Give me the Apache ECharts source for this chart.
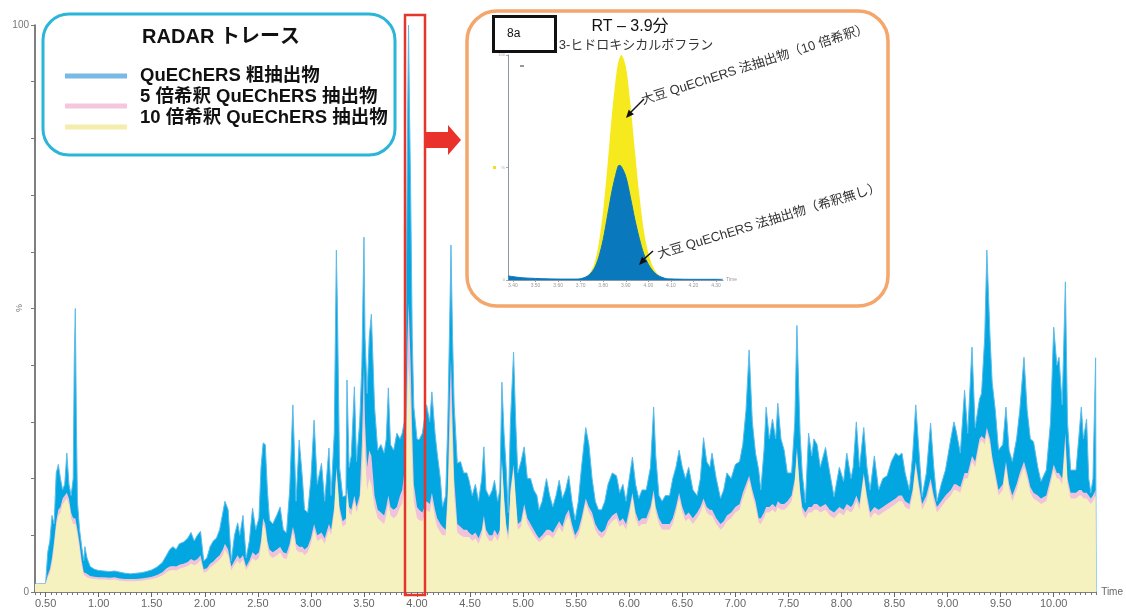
<!DOCTYPE html>
<html>
<head>
<meta charset="utf-8">
<script src="https://cdn.jsdelivr.net/npm/echarts@6/dist/echarts.min.js"></script>
<style>
html, body { margin: 0; padding: 0; background: #fff; }
#chart { width: 1126px; height: 609px; }
</style>
</head>
<body>
<div id="chart"></div>
<script>
// ---------------- main trace (retention time, min) ----------------
var times = [
  0.40,0.50,0.52,0.54,0.56,0.58,0.60,0.62,0.64,0.66,
  0.68,0.70,0.72,0.74,0.76,0.77,0.78,0.79,0.80,0.82,
  0.84,0.86,0.87,0.89,0.92,0.96,1.00,1.05,1.10,1.15,
  1.20,1.25,1.30,1.35,1.40,1.45,1.50,1.55,1.60,1.64,
  1.67,1.70,1.73,1.76,1.80,1.84,1.87,1.90,1.93,1.96,
  1.99,2.02,2.05,2.08,2.11,2.14,2.17,2.19,2.22,2.25,
  2.28,2.31,2.33,2.36,2.39,2.42,2.45,2.48,2.51,2.53,
  2.55,2.57,2.59,2.61,2.64,2.68,2.71,2.74,2.77,2.80,
  2.83,2.85,2.86,2.89,2.92,2.94,2.97,3.00,3.03,3.06,
  3.10,3.13,3.17,3.19,3.22,3.24,3.25,3.27,3.30,3.33,
  3.34,3.36,3.38,3.41,3.43,3.46,3.48,3.50,3.51,3.53,
  3.55,3.57,3.60,3.63,3.66,3.69,3.71,3.73,3.75,3.78,
  3.81,3.84,3.86,3.88,3.895,3.91,3.92,3.93,3.94,3.955,
  3.97,4.00,4.02,4.05,4.09,4.12,4.14,4.17,4.19,4.22,
  4.24,4.27,4.29,4.31,4.32,4.335,4.35,4.38,4.41,4.44,
  4.47,4.49,4.52,4.55,4.58,4.61,4.63,4.65,4.68,4.71,
  4.73,4.76,4.78,4.80,4.82,4.84,4.86,4.88,4.91,4.93,
  4.95,4.98,5.01,5.04,5.07,5.10,5.13,5.15,5.18,5.22,
  5.25,5.28,5.31,5.34,5.37,5.40,5.43,5.46,5.49,5.52,
  5.55,5.59,5.62,5.65,5.68,5.71,5.74,5.77,5.80,5.84,
  5.88,5.91,5.94,5.97,6.00,6.03,6.06,6.09,6.12,6.16,
  6.20,6.23,6.25,6.28,6.31,6.34,6.38,6.41,6.44,6.47,
  6.50,6.53,6.56,6.60,6.64,6.67,6.70,6.73,6.76,6.78,
  6.82,6.86,6.89,6.92,6.96,7.00,7.04,7.07,7.10,7.13,
  7.16,7.19,7.22,7.24,7.27,7.29,7.32,7.35,7.38,7.40,
  7.43,7.46,7.49,7.53,7.56,7.58,7.61,7.63,7.66,7.69,
  7.72,7.74,7.77,7.80,7.85,7.89,7.93,7.98,8.02,8.05,
  8.09,8.11,8.14,8.17,8.21,8.24,8.27,8.31,8.35,8.39,
  8.43,8.47,8.51,8.54,8.57,8.60,8.64,8.67,8.70,8.73,
  8.76,8.80,8.84,8.87,8.90,8.94,8.98,9.03,9.06,9.08,
  9.12,9.16,9.19,9.23,9.26,9.30,9.32,9.35,9.37,9.40,
  9.42,9.45,9.48,9.52,9.55,9.58,9.61,9.65,9.68,9.72,
  9.75,9.78,9.81,9.85,9.88,9.93,9.97,10.00,10.03,10.05,
  10.08,10.11,10.13,10.16,10.21,10.24,10.26,10.28,10.31,10.33,
  10.35,10.37,10.395,10.40
];
// QuEChERS 粗抽出物 (%)
var crude = [
  1.4,1.5,7,9,13.5,12,21,22.5,20,18,
  19,24.5,19,17,20,41,50,30,16,11,
  8,5.5,8,6,4.5,4,3.8,3.7,3.6,3.7,
  3.5,3.3,3.2,3.3,3.4,3.6,3.9,4.4,5.2,6.5,
  7.5,8.0,7.5,8.5,8.8,9.5,10.5,9,10,10.7,
  5.5,6,8,9,9.5,11,14,16,14.5,5.5,
  10,12.2,10,13.5,6,9,14.8,11,13,22,
  26.3,26,18,12.7,12,13.6,15,11,10.4,18,
  33,22,16,26.8,20,14.5,14,20,30.3,19,
  22.7,16,25.4,17,28,60.3,50,22,16.8,17,
  37.4,22,24,36.2,23,30,40,62.6,45,35,
  45,49,32.6,25,26,24.5,27,36,26,25,
  28,27,28,30,42,80,100,84,71,45,
  32.6,27,26.8,28,33,30,35.3,28,24.5,20,
  15,17,30,50,61.2,45,33,22.7,23,21,
  21,19.7,17,19,16,20,25.6,18,16.8,18,
  19.7,16,18,37,28,22,14,30,42.3,30,
  21,23,25.6,20,20,18,17,14.5,16,20,
  17,15,17,19.7,16.5,18,20.5,16,12.7,16,
  22,29,26,20,16,14.5,14.5,16,19,21,
  20.5,17.5,19,16,20,23.8,19,16.5,18,18,
  22,32.6,24,17,16,17,17,20,22,25,
  22,20,22,18,17,20,27.2,23,22,24.5,
  20,16.5,18,21,20,22.5,23,26,32,42.7,
  30,24.5,21.5,18,25,32.6,27,30.5,27,33.3,
  27,25,21,21,30,47,28,21,15.7,28,
  24,27,26,22,25.5,21,16.8,22,19.5,24.5,
  20,22,30,22,29,22,18,24,18,20,
  20.5,23,24.5,24,24.5,21,18,24,33,25,
  16.8,21,29.8,22,16,19,21.5,27,30,28.5,
  24.5,35.6,28,43.2,29,34,35,45,60.3,45,
  37,32,25,26,32.6,25,23,27,32,41.4,
  32,27,26.5,22,19.5,21.5,30,46.7,40,41.4,
  33,54.7,30,21.5,21.5,28,32.6,27,30.5,20,
  17.5,20,41.3,0
];
// 5 倍希釈 QuEChERS 抽出物 (%)
var dil5 = [
  1.4,1.5,3,4,6,9,12.5,14.5,15,16.5,
  17,17.5,16.5,14,13,13,13,12,11,8.5,
  5.5,3.5,3.8,3.2,2.8,2.7,2.6,2.6,2.5,2.6,
  2.4,2.3,2.3,2.3,2.4,2.5,2.7,3.0,3.5,4.2,
  4.5,4.6,4.5,4.8,5.0,5.3,5.8,5.5,5.8,6.5,
  4.0,4.2,5,5.4,6,6.5,7.5,8.5,7.5,4.5,
  5.5,6.5,5.8,6.5,4.5,5.5,7.0,6.5,7,9,
  13,12,9,7.5,7,7.5,8,7,6.8,8.5,
  11.5,10,8.5,8,8,7.5,8,9.5,12,10,
  10.5,9.5,12,11,15,22,20,15,12.5,13,
  18.5,15,14.5,17,15,17,26,40,30,22,
  25,24,17,14.5,14,13.5,15,17,15,14.5,
  15,17,18,21,27,44,51,46,40,28,
  19,15,14.5,14,16,15.5,17.5,14.5,13,12,
  11.5,11,18,35,41,30,20,12,11.5,11,
  11,10.5,10,10.5,9.5,11,13.5,11,10,10,
  11,10,11,23.5,17,12,10,18,22.5,17,
  12,12.5,15.5,13,12,11,10,9.5,10,11,
  11,10.5,11.5,12.5,11.5,13.5,14.5,12,10,11,
  13,16.5,15,14,12,11,10.5,11,12.5,13.5,
  14,12.5,13,12,14.5,17.5,14,12.5,13,13,
  15,18,15,13,12,12,12,13,15,17.5,
  15,13.5,14,13,14,15,16.5,15,14.5,14.5,
  13,12,12.5,13.5,14,15,15.5,17.5,19,20.5,
  18,16,13,13,14,15,15,15.5,15,16,
  15.5,15.5,16,17,20,25.5,18,15,14,15,
  15,15.5,15.5,15,15.5,14.5,14,15,14.5,15.5,
  15,15.5,17,15.5,21,17,14,15,14.5,15,
  15.5,16,16.5,17,17,16,15.5,18,23,19,
  15.5,17,20,17,15,16,17,18,19,19,
  18.5,21,21,24,23,27,27.5,27,29,27,
  24,21,18,19,23,19,17,19,21,23,
  21,18.5,17.5,17,16.5,17,20,22.5,21,21,
  20,28,20,17.5,17.5,18,18,17.5,17.5,17,
  16.5,17,18,0
];
// 10 倍希釈 QuEChERS 抽出物 (%)
var dil10 = [
  1.4,1.4,2.5,3.3,5,8,11.5,13.5,14,15.5,
  16,16.5,15.5,13,12,12,12,11,10,7.5,
  4.5,3,3.2,2.6,2.4,2.3,2.2,2.2,2.1,2.2,
  2.0,1.9,1.9,1.9,2.0,2.1,2.3,2.5,2.9,3.5,
  3.8,3.9,3.8,4.1,4.3,4.6,5.0,4.7,5,5.6,
  3.4,3.6,4.3,4.7,5.2,5.7,6.5,7.5,6.5,3.8,
  4.8,5.5,5,5.7,3.9,4.8,6.0,5.5,6,8,
  12,11,8,6.5,6,6.5,7,6,5.8,7.5,
  10.4,9,7.5,7,7,6.5,7,8.5,11,9,
  9.5,8.5,11,10,14,21,19,14,11.5,12,
  17.5,14,13.5,16,14,16,20,31,24,18,
  20,19,15,13,12.5,12,13.5,15.5,13.5,13,
  13.5,15,15.5,18,22,35,40,37,32,22,
  16,13,12.7,12.5,14.5,14,16.2,13,11.5,10.5,
  10,10,16,28,34,25,17,10.5,10,9.7,
  9.7,9.7,9,9.5,8.5,10,12.5,10,9,9,
  10,9,10,22.5,16,11,9,17,21.5,16,
  11,11.5,14.5,12,11,10,9.2,8.8,9.2,10,
  10,9.5,10.5,11.5,10.5,12.5,13.5,11,9.2,10,
  12,15.7,14,13,11,10,9.5,10,11.5,12.5,
  13,11.5,12,11,13.5,16.8,13,11.5,12,12,
  14,17,14,12,11,11,11,12,14,16.5,
  14,12.5,13,12,13,14,15.5,14,13.5,13.5,
  12,11,11.5,12.5,13,14,14.5,16.5,18,19.7,
  17,15,12.2,12,13,14,14,14.5,14,15,
  14.5,14.5,15,16,19,24.5,17,14,13,14,
  14,14.5,14.5,14,14.5,13.5,13,14,13.5,14.5,
  14,14.5,16,14.5,20.3,16,13,14,13.5,14,
  14.5,15,15.5,16,16,15,14.5,17,22,18,
  14.5,16,19,16,14,15,16,17,18,18,
  17.5,20,20,23,22,26,26.8,26,28,26,
  23,20,17,18,22,18,16,18,20,22,
  20,17.5,16.5,16,15.5,16,19,21.5,20,20,
  19,26,19,16.5,16.5,17,17,16.5,16.5,16,
  15.5,16,17,0
];
var timeLabels = [0.5,1.0,1.5,2.0,2.5,3.0,3.5,4.0,4.5,5.0,5.5,6.0,6.5,7.0,7.5,8.0,8.5,9.0,9.5,10.0];

// ---------------- inset: 3-ヒドロキシカルボフラン, RT 3.9 ----------------
var inTimes = [3.38,3.40,3.44,3.50,3.56,3.62,3.68,3.70,3.72,3.74,3.76,3.78,3.80,3.82,3.84,3.86,3.87,3.88,
               3.90,3.92,3.94,3.96,3.98,4.00,4.02,4.04,4.06,4.08,4.10,4.12,4.20,4.30,4.33];
var inCrude = [1.8,1.5,1.0,0.7,0.5,0.4,0.4,0.6,1.2,2.5,5,10,18,29,40,48.5,51,50.5,
               46,37,27,18.5,11.5,7,4,2.2,1.2,0.6,0.5,0.4,0.3,0.3,0.3];
var inDil10 = [0,0,0,0,0,0,0,0.3,1,3,7,16,31,52,75,93,98,100,
               95,79,58,38,22,12,6,2.8,1.2,0.4,0,0,0,0,0];
var inTimeLabels = [3.4,3.5,3.6,3.7,3.8,3.9,4.0,4.1,4.2,4.3];

var chart = echarts.init(document.getElementById('chart'));
var FONT = '"Liberation Sans", "Noto Sans CJK JP", sans-serif';

function pairs(xs, ys) {
    return xs.map(function (x, i) { return [x, ys[i]]; });
}

function arrowHead(tx, ty, dx, dy) {
    // small black head, tip at (tx,ty), pointing along (dx,dy)
    var l = Math.sqrt(dx * dx + dy * dy), ux = dx / l, uy = dy / l;
    var bx = tx - ux * 8, by = ty - uy * 8;
    return [[tx, ty], [bx + uy * 3.5, by - ux * 3.5], [bx - uy * 3.5, by + ux * 3.5]];
}

var option = {
    animation: false,
    backgroundColor: '#fff',
    grid: [
        {left: 35, right: 28, top: 25, bottom: 17},
        {left: 508, top: 55, width: 215, height: 225}
    ],
    xAxis: [
        {
            gridIndex: 0, type: 'value', position: 'bottom', min: 0.4, max: 10.4, interval: 0.05,
            name: 'Time', nameLocation: 'end', nameGap: 5,
            nameTextStyle: {fontSize: 10, color: '#666', fontFamily: FONT, verticalAlign: 'middle'},
            axisLine: {lineStyle: {color: '#555', width: 1.5}},
            axisTick: {length: 3, lineStyle: {color: '#777'}},
            axisLabel: {show: false},
            splitLine: {show: false}
        },
        {
            gridIndex: 0, type: 'value', position: 'bottom', min: 0.4, max: 10.4,
            axisLine: {show: false},
            axisTick: {show: true, length: 5, customValues: timeLabels, lineStyle: {color: '#666'}},
            axisLabel: {
                customValues: timeLabels, margin: 6, fontSize: 11, color: '#666', fontFamily: FONT,
                formatter: function (v) { return v.toFixed(2); }
            },
            splitLine: {show: false}
        },
        {
            gridIndex: 1, type: 'value', min: 3.378, max: 4.331, z: 20,
            name: 'Time', nameLocation: 'end', nameGap: 3,
            nameTextStyle: {fontSize: 5, color: '#999'},
            axisLine: {lineStyle: {color: '#8a97a6', width: 1}},
            axisTick: {length: 2, customValues: inTimeLabels, lineStyle: {color: '#999'}},
            axisLabel: {
                customValues: inTimeLabels, margin: 3, fontSize: 5, color: '#999',
                formatter: function (v) { return v.toFixed(2); }
            },
            splitLine: {show: false}
        }
    ],
    yAxis: [
        {
            gridIndex: 0, type: 'value', min: 0, max: 100, interval: 10,
            axisLine: {show: true, lineStyle: {color: '#555', width: 1.5}},
            axisTick: {show: true, length: 4, lineStyle: {color: '#777'}},
            axisLabel: {
                fontSize: 10, color: '#777', fontFamily: FONT, margin: 6,
                formatter: function (v) { return v === 0 ? '0' : (v === 100 ? '100' : ''); }
            },
            splitLine: {show: false}
        },
        {
            gridIndex: 1, type: 'value', min: 0, max: 100, interval: 50, z: 20,
            axisLine: {show: true, lineStyle: {color: '#8a97a6', width: 1}},
            axisTick: {show: true, length: 2, lineStyle: {color: '#aaa'}},
            axisLabel: {fontSize: 4, color: '#aaa', margin: 3,
                formatter: function (v) { return v === 50 ? '%' : String(v); }},
            splitLine: {show: false}
        }
    ],
    series: [
        {
            name: 'QuEChERS 粗抽出物', type: 'line', xAxisIndex: 0, yAxisIndex: 0,
            data: pairs(times, crude), symbol: 'none',
            lineStyle: {width: 1, color: '#5cbbe9'},
            areaStyle: {color: '#02a6e0', opacity: 1}, z: 2
        },
        {
            name: '5 倍希釈 QuEChERS 抽出物', type: 'line', xAxisIndex: 0, yAxisIndex: 0,
            data: pairs(times, dil5), symbol: 'none',
            lineStyle: {width: 0},
            areaStyle: {color: '#f0c3da', opacity: 1}, z: 3
        },
        {
            name: '10 倍希釈 QuEChERS 抽出物', type: 'line', xAxisIndex: 0, yAxisIndex: 0,
            data: pairs(times, dil10), symbol: 'none',
            lineStyle: {width: 0},
            areaStyle: {color: '#f5f2c0', opacity: 1}, z: 4
        },
        {
            type: 'line', xAxisIndex: 2, yAxisIndex: 1,
            data: pairs(inTimes, inDil10), symbol: 'none', smooth: 0.3,
            lineStyle: {width: 0},
            areaStyle: {color: '#f6ea1f', opacity: 1}, z: 20
        },
        {
            type: 'line', xAxisIndex: 2, yAxisIndex: 1,
            data: pairs(inTimes, inCrude), symbol: 'none', smooth: 0.3,
            lineStyle: {width: 1, color: '#0a78bd'},
            areaStyle: {color: '#0a78bd', opacity: 1}, z: 21
        }
    ],
    graphic: [
        // y axis "%" mark
        {type: 'text', x: 20, y: 308, rotation: Math.PI / 2, z: 5,
         style: {text: '%', fontSize: 9, fill: '#777', align: 'center', verticalAlign: 'middle', fontFamily: FONT}},

        // legend box
        {type: 'rect', z: 10, shape: {x: 43, y: 14, width: 352, height: 141, r: 26},
         style: {fill: '#fff', stroke: '#2bb5d8', lineWidth: 3}},
        {type: 'text', x: 221, y: 37, z: 11,
         style: {text: 'RADAR トレース', fontSize: 20, fontWeight: 'bold', fontFamily: FONT,
                 fill: '#111', align: 'center', verticalAlign: 'middle'}},
        {type: 'line', z: 11, shape: {x1: 65, y1: 76, x2: 127, y2: 76}, style: {stroke: '#7ab9e6', lineWidth: 5}},
        {type: 'line', z: 11, shape: {x1: 65, y1: 106, x2: 127, y2: 106}, style: {stroke: '#f4c7dd', lineWidth: 5}},
        {type: 'line', z: 11, shape: {x1: 65, y1: 127, x2: 127, y2: 127}, style: {stroke: '#f3eeab', lineWidth: 5}},
        {type: 'text', x: 140, y: 76, z: 11,
         style: {text: 'QuEChERS 粗抽出物', fontSize: 18.5, fontWeight: 'bold', fontFamily: FONT, fill: '#111', verticalAlign: 'middle'}},
        {type: 'text', x: 140, y: 97, z: 11,
         style: {text: '5 倍希釈 QuEChERS 抽出物', fontSize: 18.5, fontWeight: 'bold', fontFamily: FONT, fill: '#111', verticalAlign: 'middle'}},
        {type: 'text', x: 140, y: 118, z: 11,
         style: {text: '10 倍希釈 QuEChERS 抽出物', fontSize: 18.5, fontWeight: 'bold', fontFamily: FONT, fill: '#111', verticalAlign: 'middle'}},

        // red highlight around the RT 3.9 peak
        {type: 'rect', z: 15, shape: {x: 405, y: 15, width: 20, height: 580},
         style: {fill: 'none', stroke: '#e5362c', lineWidth: 2.5}},
        {type: 'polygon', z: 15,
         shape: {points: [[425, 132], [448, 132], [448, 125], [461, 140], [448, 155], [448, 148], [425, 148]]},
         style: {fill: '#e8322b'}},

        // inset frame
        {type: 'rect', z: 10, shape: {x: 467, y: 11, width: 421, height: 295, r: 30},
         style: {fill: '#fff', stroke: '#f4a66b', lineWidth: 3.5}},
        {type: 'rect', z: 30, shape: {x: 493.5, y: 16.5, width: 62, height: 35},
         style: {fill: '#fff', stroke: '#111', lineWidth: 3}},
        {type: 'text', x: 507, y: 34, z: 31,
         style: {text: '8a', fontSize: 12, fontFamily: FONT, fill: '#111', verticalAlign: 'middle'}},
        {type: 'text', x: 630, y: 27, z: 31,
         style: {text: 'RT – 3.9分', fontSize: 16, fontFamily: FONT, fill: '#111', align: 'center', verticalAlign: 'middle'}},
        {type: 'text', x: 636, y: 45, z: 31,
         style: {text: '3-ヒドロキシカルボフラン', fontSize: 13, fontFamily: FONT, fill: '#333', align: 'center', verticalAlign: 'middle'}},
        {type: 'rect', z: 31, shape: {x: 493, y: 166, width: 3, height: 3}, style: {fill: '#f2e01c'}},
        {type: 'line', z: 31, shape: {x1: 520, y1: 66, x2: 524, y2: 66}, style: {stroke: '#333', lineWidth: 1}},

        // annotations
        {type: 'text', x: 642, y: 101, rotation: 0.31, z: 31,
         style: {text: '大豆 QuEChERS 法抽出物（10 倍希釈）', fontSize: 13, fontFamily: FONT, fill: '#333', verticalAlign: 'middle'}},
        {type: 'line', z: 31, shape: {x1: 644, y1: 99, x2: 631, y2: 112}, style: {stroke: '#111', lineWidth: 1.5}},
        {type: 'polygon', z: 31, shape: {points: arrowHead(626, 118, -16, 18)}, style: {fill: '#111'}},
        {type: 'text', x: 658, y: 255, rotation: 0.295, z: 31,
         style: {text: '大豆 QuEChERS 法抽出物（希釈無し）', fontSize: 13, fontFamily: FONT, fill: '#333', verticalAlign: 'middle'}},
        {type: 'line', z: 31, shape: {x1: 653, y1: 251, x2: 644, y2: 259}, style: {stroke: '#111', lineWidth: 1.5}},
        {type: 'polygon', z: 31, shape: {points: arrowHead(639, 265, -13, 14)}, style: {fill: '#111'}}
    ]
};
chart.setOption(option);
</script>
</body>
</html>
